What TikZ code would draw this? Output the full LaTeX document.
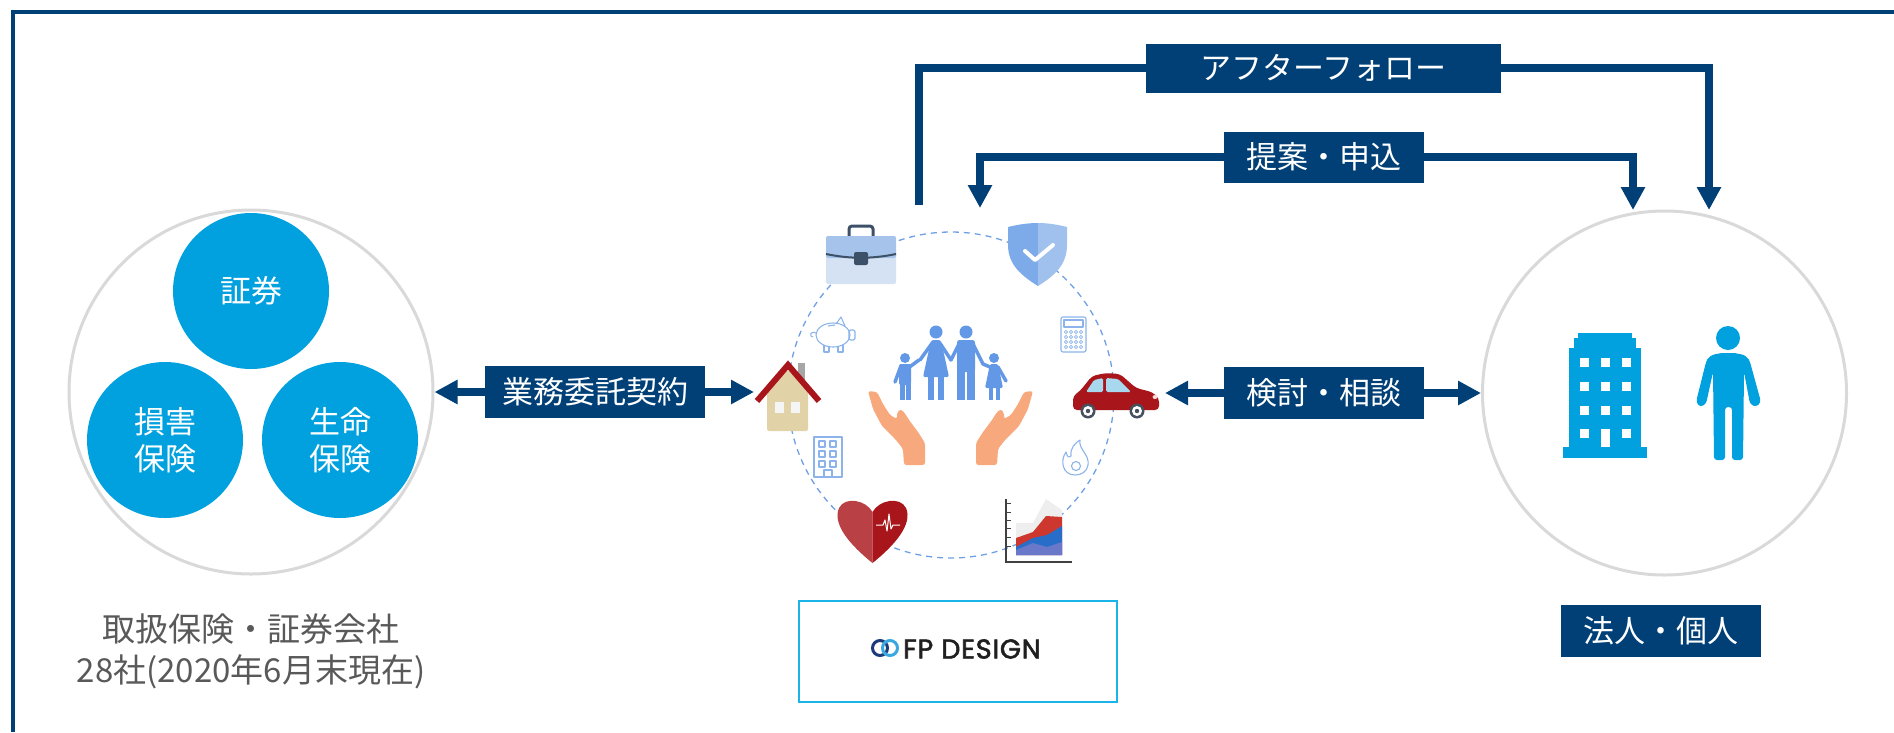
\documentclass[tikz,border=0pt]{standalone}
\usepackage{fontspec}
\setmainfont{Noto Sans CJK JP}
\newfontfamily\logofont[FakeBold=2.2, LetterSpace=3]{Poppins}
\usetikzlibrary{arrows.meta,backgrounds}

\definecolor{navy}{RGB}{0,64,119}
\definecolor{fieldblue}{RGB}{0,161,222}
\definecolor{ringgray}{RGB}{217,217,217}
\definecolor{captiongray}{RGB}{89,89,89}
\definecolor{dashblue}{RGB}{110,160,230}
\definecolor{famblue}{RGB}{98,152,229}
\definecolor{handskin}{RGB}{247,168,125}
\definecolor{deepred}{RGB}{168,22,28}
\definecolor{softred}{RGB}{185,64,69}
\definecolor{housebeige}{RGB}{225,210,168}
\definecolor{caseblue}{RGB}{166,195,235}
\definecolor{casepale}{RGB}{213,226,243}
\definecolor{strapgray}{RGB}{60,80,104}
\definecolor{shieldA}{RGB}{125,170,232}
\definecolor{shieldB}{RGB}{160,192,238}
\definecolor{lineblue}{RGB}{140,180,235}
\definecolor{glass}{RGB}{168,216,238}
\definecolor{wheelgray}{RGB}{70,80,95}
\definecolor{chartgray}{RGB}{238,238,238}
\definecolor{chartred}{RGB}{205,55,45}
\definecolor{chartblue}{RGB}{40,110,200}
\definecolor{chartviolet}{RGB}{105,120,200}
\definecolor{logocyan}{RGB}{26,180,232}
\definecolor{ringnavy}{RGB}{29,59,122}
\definecolor{ringcyan}{RGB}{58,168,224}

\begin{document}
\begin{tikzpicture}[x=1pt,y=-1pt,
  >={Triangle[width=23pt,length=23pt]},
  conn/.style={draw=navy, line width=8pt},
  tag/.style={fill=navy, text=white, inner sep=0pt, minimum height=52pt,
    font=\fontsize{31}{36}\selectfont},
  ring/.style={circle, draw=ringgray, line width=3pt, minimum size=364pt, inner sep=0pt},
  field/.style={circle, fill=fieldblue, text=white, minimum size=156pt, inner sep=0pt,
    align=center, font=\fontsize{31}{37}\selectfont},
  outl/.style={draw=lineblue, line width=1.1pt, line join=round},
  limb/.style={draw=famblue, line width=3.5pt, line cap=round}]

\useasboundingbox (0,0) rectangle (1894,732);

% outer frame (top and left edges)
\draw[navy, line width=4pt] (13,732) -- (13,12) -- (1894,12);

% ---------- insurers / securities ----------
\node[ring] (leftC) at (251,392) {};
\node[field] (sec) at (251,291) {証券};
\node[field] (nonlife) at (165,440) {損害\\保険};
\node[field] (life) at (340,440) {生命\\保険};
\node[text=captiongray, align=center, font=\fontsize{33}{41}\selectfont] (caption)
  at (251,651) {取扱保険・証券会社\\28社(2020年6月末現在)};

% ---------- clients ----------
\node[ring] (rightC) at (1664.5,393) {};
\node[tag, minimum width=200pt] (client) at (1661,631) {法人・個人};

% office building
\begin{scope}[fill=fieldblue]
  \fill (1578,333) rectangle (1632,339);
  \fill (1574,338) rectangle (1636,349);
  \fill (1569,348) rectangle (1641,448);
  \fill (1563,447) rectangle (1647,458);
\end{scope}
\foreach \wx in {1580,1601,1622}
  \foreach \wy in {358,382,406}
    \fill[white] (\wx,\wy) rectangle ++(9,9);
\fill[white] (1580,429) rectangle ++(9,9);
\fill[white] (1622,429) rectangle ++(9,9);
\fill[white] (1601,429) rectangle (1610,447);

% person
\fill[fieldblue] (1728,338) circle (12);
\fill[fieldblue, rounded corners=3pt]
  (1706,362) .. controls (1710,354) and (1720,353) .. (1728,353)
  .. controls (1736,353) and (1746,354) .. (1750,362)
  -- (1761,402) -- (1756,407) -- (1750,404) -- (1744,372)
  -- (1743,460) -- (1732,460) -- (1732,407) -- (1725,407) -- (1725,460)
  -- (1714,460) -- (1713,372) -- (1706,404) -- (1700,407) -- (1696,402) -- cycle;

% ---------- FP DESIGN hub ----------
\draw[dashblue, line width=1.3pt, dash pattern=on 6pt off 5pt] (951,395) circle (163);
\coordinate (hub) at (951,395);

% briefcase
\draw[strapgray, line width=3pt, rounded corners=3pt] (849,237) -- (849,226) -- (873,226) -- (873,237);
\fill[casepale, rounded corners=2pt] (826,250) rectangle (896,284);
\fill[caseblue, rounded corners=2pt] (826,236) rectangle (896,258);
\draw[strapgray, line width=2pt] (826,254) .. controls (850,259) and (872,259) .. (896,254);
\fill[strapgray, rounded corners=2pt] (854,252) rectangle (868,265);

% shield
\fill[shieldA] (1008,227) .. controls (1020,224) and (1030,223) .. (1038,223)
  -- (1038,286) .. controls (1022,276) and (1008,265) .. (1008,245) -- cycle;
\fill[shieldB] (1067,227) .. controls (1055,224) and (1046,223) .. (1038,223)
  -- (1038,286) .. controls (1054,276) and (1067,265) .. (1067,245) -- cycle;
\draw[white, line width=4pt, line cap=round, line join=round] (1025,251) -- (1035,260) -- (1053,245);

% piggy bank
\draw[outl] (833,335) ellipse (17 and 12);
\draw[outl, rounded corners=1.5pt] (849,330) rectangle (855,340);
\draw[outl] (836,324) -- (841,317) -- (845,326);
\draw[outl] (824,345) -- (824,352) -- (829,352) -- (829,346);
\draw[outl] (838,346) -- (838,352) -- (843,352) -- (843,345);
\draw[outl] (816,333) .. controls (810,330) and (809,337) .. (813,337);
\draw[outl] (828,326) -- (835,325);

% calculator
\draw[outl, rounded corners=2pt] (1061,317) rectangle (1086,352);
\draw[outl] (1064,320) rectangle (1083,327);
\foreach \cx in {1066,1071,1076,1081}
  \foreach \cy in {332,337,342,347}
    \draw[lineblue, line width=0.7pt] (\cx,\cy) circle (1.7);

% house
\fill[gray!70] (798,363) rectangle (805,382);
\fill[housebeige, rounded corners=2pt] (767,431) -- (767,390) -- (788,370) -- (808,390) -- (808,431) -- cycle;
\draw[deepred, line width=6pt] (757,401) -- (788,365) -- (819,401);
\fill[white!92!gray] (775,402) rectangle (784,413);
\fill[white!92!gray] (791,402) rectangle (800,413);
\coordinate (houseL) at (754,392);

% small office outline
\draw[outl] (814,437) rectangle (842,477);
\foreach \bx in {819,830}
  \foreach \by in {441,451,461}
    \draw[outl] (\bx,\by) rectangle ++(6,6);
\draw[outl] (824,477) -- (824,470) -- (832,470) -- (832,477);

% car
\fill[deepred, rounded corners=4pt] (1073,410) -- (1073,396) -- (1080,391) -- (1092,376)
  -- (1106,373) -- (1120,374) -- (1136,388) -- (1152,392) -- (1159,398) -- (1159,410) -- cycle;
\fill[glass, rounded corners=1.5pt] (1086,392) -- (1094,380) -- (1103,378) -- (1103,392) -- cycle;
\fill[glass, rounded corners=1.5pt] (1106,378) -- (1118,379) -- (1131,392) -- (1106,392) -- cycle;
\fill[white!85!red] (1155,397) ellipse (2.5 and 2);
\foreach \wx in {1088,1137} {
  \fill[wheelgray] (\wx,411) circle (7.5);
  \fill[white] (\wx,411) circle (5);
  \fill[wheelgray] (\wx,411) circle (2.2);
}
\coordinate (carR) at (1165,393);

% flame
\draw[outl] (1075,475) .. controls (1062,475) and (1060,460) .. (1066,452)
  .. controls (1067,457) and (1069,458) .. (1071,456)
  .. controls (1070,448) and (1075,443) .. (1080,440)
  .. controls (1078,449) and (1090,455) .. (1088,465)
  .. controls (1087,472) and (1081,475) .. (1075,475) -- cycle;
\draw[outl] (1076,466) circle (4.5);

% heart
\fill[softred] (872.5,512) .. controls (866,500) and (845,496) .. (839,508)
  .. controls (832,524) and (850,545) .. (872.5,563) -- cycle;
\fill[deepred] (872.5,512) .. controls (879,500) and (900,496) .. (906,508)
  .. controls (913,524) and (895,545) .. (872.5,563) -- cycle;
\draw[white, line width=1pt, line join=round] (876,525) -- (883,525) -- (885,520) -- (887,531)
  -- (889,514) -- (891,529) -- (893,525) -- (900,525);

% area chart
\fill[chartgray] (1016,523) -- (1033,523) -- (1046,499) -- (1062,510) -- (1062,555) -- (1016,555) -- cycle;
\fill[chartred] (1016,538) -- (1033,532) -- (1046,516) -- (1062,517) -- (1062,555) -- (1016,555) -- cycle;
\fill[chartblue] (1016,547) -- (1033,538) -- (1047,535) -- (1062,526) -- (1062,555) -- (1016,555) -- cycle;
\fill[chartviolet] (1016,550) -- (1033,543) -- (1047,547) -- (1062,542) -- (1062,555) -- (1016,555) -- cycle;
\draw[black!75, line width=2.2pt] (1006,499) -- (1006,562) -- (1072,562);
\foreach \ty in {503,512,520,528,537,546}
  \draw[black!75, line width=1pt] (1006,\ty) -- (1011,\ty);

% hands
\begin{scope}[fill=handskin]
  \fill[rounded corners=2.5pt] (868,391) -- (873,409) -- (882,426) -- (896,440) -- (903,449)
    -- (904,465) -- (925,465) -- (925,443) -- (918,432) -- (909,420) -- (904,412)
    -- (900,409) -- (897,413) -- (897,419) -- (890,415) -- (883,404) -- (877,392) -- cycle;
  \begin{scope}[xshift=1901pt, xscale=-1]
    \fill[rounded corners=2.5pt] (868,391) -- (873,409) -- (882,426) -- (896,440) -- (903,449)
      -- (904,465) -- (925,465) -- (925,443) -- (918,432) -- (909,420) -- (904,412)
      -- (900,409) -- (897,413) -- (897,419) -- (890,415) -- (883,404) -- (877,392) -- cycle;
  \end{scope}
\end{scope}

% family
\begin{scope}[fill=famblue]
  % boy
  \fill (905,358) circle (5);
  \fill[rounded corners=2pt] (899,364) rectangle (911,385);
  \fill (899.5,380) rectangle (904.5,400);
  \fill (905.5,380) rectangle (910.5,400);
  \draw[limb] (900.5,367) -- (895,382);
  \draw[limb] (909.5,367) -- (919,360);
  % mother
  \fill (936,332) circle (6.5);
  \fill[rounded corners=2pt] (931,340) -- (941,340) -- (949,377) -- (923,377) -- cycle;
  \fill (928,374) rectangle (934,400);
  \fill (938,374) rectangle (944,400);
  \draw[limb] (931.5,344) -- (920,360);
  \draw[limb] (940.5,344) -- (951,360);
  % father
  \fill (966,332) circle (6.5);
  \fill[rounded corners=2.5pt] (957,340) rectangle (975,372);
  \fill (957,368) rectangle (965,400);
  \fill (967,368) rectangle (975,400);
  \draw[limb] (959,344) -- (951,360);
  \draw[limb] (973,344) -- (983,364);
  % girl
  \fill (994,358) circle (5);
  \fill[rounded corners=1.5pt] (990,364) -- (998,364) -- (1003,388) -- (985,388) -- cycle;
  \fill (988.5,386) rectangle (992.5,400);
  \fill (995.5,386) rectangle (999.5,400);
  \draw[limb] (990,367) -- (983,364);
  \draw[limb] (998,367) -- (1006,381);
\end{scope}

% company logo box
\node[draw=logocyan, line width=1.3pt, minimum width=318pt, minimum height=101pt,
  inner sep=0pt] (fpd) at (958,651.5) {};
\draw[ringnavy, line width=3pt] (880,648) circle (7.5);
\draw[ringcyan, line width=3pt] (890,648) circle (7.5);
\node[anchor=west, inner sep=0pt, text=black!88, font=\logofont\fontsize{27}{30}\selectfont]
  (fpdname) at (903,649) {FP DESIGN};

% ---------- flow labels ----------
\node[tag, minimum width=355pt, minimum height=49pt] (follow) at (1323.5,68) {アフターフォロー};
\node[tag, minimum width=200pt, minimum height=51pt] (offer) at (1324,157) {提案・申込};
\node[tag, minimum width=220pt] (contract) at (595,392) {業務委託契約};
\node[tag, minimum width=200pt] (consult) at (1324,393) {検討・相談};

\coordinate (followStart) at (918.5,205);
\coordinate (followEnd) at (1709,210);
\coordinate (offerL) at (980,208);
\coordinate (offerR) at (1633,210);

% ---------- connectors ----------
\begin{pgfonlayer}{background}
  \draw[conn] (followStart) |- (follow);
  \draw[conn, ->] (follow) -| (followEnd);
  \draw[conn, ->] (offer) -| (offerL);
  \draw[conn, ->] (offer) -| (offerR);
  \draw[conn, ->] (contract) -- (leftC.east);
  \draw[conn, ->] (contract) -- (houseL);
  \draw[conn, ->] (consult) -- (carR);
  \draw[conn, ->] (consult) -- (rightC.west);
\end{pgfonlayer}

\end{tikzpicture}
\end{document}
